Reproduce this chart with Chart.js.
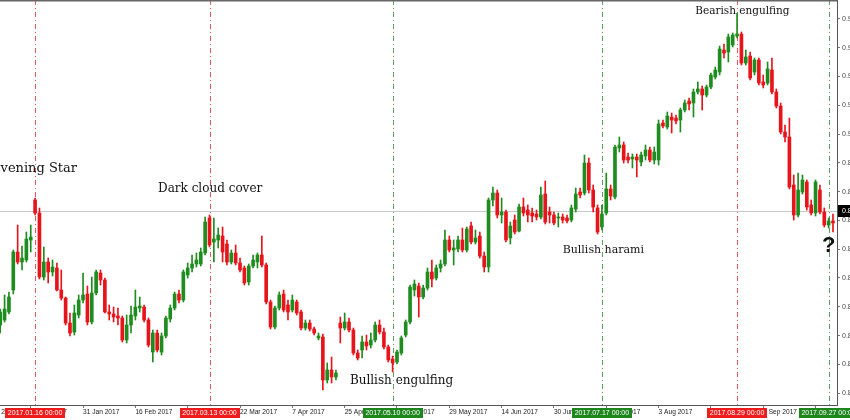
<!DOCTYPE html>
<html>
<head>
<meta charset="utf-8">
<script src="https://cdn.jsdelivr.net/npm/chart.js@4.4.0/dist/chart.umd.min.js"></script>
<style>
  html, body { margin: 0; padding: 0; background: #fff; overflow: hidden; }
  #wrap { width: 850px; height: 420px; }
</style>
</head>
<body>
<div id="wrap"><canvas id="chart" width="850" height="420"></canvas></div>
<script>
// daily bars, 4 Jan 2017 (index 0) .. 28 Sep 2017 (index 191)
const opens = [
  0.85375,0.85500,0.85700,0.86250,0.87200,0.86950,0.87000,0.87500,0.88500,0.88175,
  0.86575,0.86950,0.86700,0.86800,0.86250,0.86050,0.85425,0.85200,0.85625,0.86000,
  0.86150,0.85450,0.86175,0.86675,0.86500,0.85700,0.85650,0.85600,0.85550,0.85000,
  0.85375,0.85600,0.85800,0.85825,0.85500,0.84700,0.85175,0.84700,0.85100,0.85525,
  0.85800,0.86150,0.86000,0.86625,0.86800,0.86900,0.86900,0.87175,0.88050,0.87450,
  0.87500,0.87600,0.87400,0.86950,0.87175,0.86925,0.86800,0.86450,0.86850,0.86950,
  0.87125,0.86875,0.85950,0.85325,0.85800,0.86150,0.85875,0.85750,0.85950,0.85700,
  0.85300,0.85425,0.85275,0.85050,0.85075,0.84000,0.84250,0.84075,0.85425,0.85300,
  0.85450,0.85250,0.84675,0.84750,0.84950,0.84875,0.85000,0.85375,0.85200,0.84825,
  0.84525,0.84450,0.84675,0.85125,0.85450,0.86250,0.86350,0.86075,0.86300,0.86700,
  0.86550,0.86800,0.86900,0.87500,0.87250,0.87275,0.87500,0.87250,0.87850,0.87450,
  0.87600,0.87100,0.86825,0.88500,0.88675,0.88125,0.88200,0.87550,0.88000,0.87725,
  0.88325,0.88250,0.88175,0.88150,0.88075,0.88650,0.88200,0.88125,0.88050,0.88075,
  0.88050,0.88000,0.88275,0.88700,0.88675,0.89425,0.88750,0.88300,0.87825,0.88175,
  0.88775,0.88575,0.89800,0.89875,0.89575,0.89525,0.89575,0.89450,0.89600,0.89750,
  0.89500,0.89500,0.90425,0.90325,0.90575,0.90550,0.90500,0.90750,0.90975,0.90925,
  0.91200,0.91275,0.91125,0.91325,0.91575,0.91700,0.92250,0.92200,0.92375,0.92600,
  0.92650,0.91925,0.92100,0.91700,0.92000,0.91450,0.91425,0.91750,0.91200,0.90850,
  0.90200,0.90075,0.88875,0.88125,0.88700,0.88950,0.88375,0.88175,0.88750,0.88200,
  0.87875,0.87975
];
const highs = [
  0.85775,0.86125,0.86200,0.87250,0.87875,0.87350,0.87700,0.87875,0.88550,0.88300,
  0.87325,0.87050,0.87000,0.86925,0.86750,0.86075,0.85675,0.85875,0.86125,0.86675,
  0.86350,0.86575,0.86750,0.86750,0.86550,0.85875,0.85825,0.85800,0.85600,0.85625,
  0.85850,0.86250,0.86075,0.85875,0.85550,0.85250,0.85250,0.85175,0.85600,0.85875,
  0.86200,0.86250,0.86750,0.86925,0.87125,0.87175,0.87300,0.88075,0.88125,0.88050,
  0.87800,0.87825,0.87500,0.87250,0.87375,0.87050,0.86850,0.86900,0.87125,0.87175,
  0.87600,0.86925,0.86000,0.85850,0.86200,0.86250,0.86000,0.86125,0.86000,0.85750,
  0.85500,0.85500,0.85325,0.85175,0.85150,0.84425,0.84575,0.84250,0.85575,0.85675,
  0.85550,0.85300,0.84750,0.85100,0.85125,0.85175,0.85450,0.85500,0.85300,0.84875,
  0.84600,0.84750,0.85100,0.85500,0.86375,0.86500,0.86425,0.86375,0.86800,0.87000,
  0.86875,0.87000,0.87750,0.87600,0.87500,0.87600,0.87800,0.87825,0.87950,0.87750,
  0.87700,0.87200,0.88550,0.88825,0.88750,0.88550,0.88250,0.87950,0.88125,0.88400,
  0.88550,0.88375,0.88300,0.88250,0.88825,0.88975,0.88325,0.88200,0.88175,0.88150,
  0.88125,0.88375,0.88800,0.88800,0.89625,0.89550,0.88875,0.88375,0.88375,0.89175,
  0.88875,0.89875,0.90075,0.89950,0.89675,0.89650,0.89650,0.89700,0.89875,0.89825,
  0.89825,0.90500,0.90500,0.90700,0.90675,0.90625,0.90800,0.91000,0.91050,0.91275,
  0.91450,0.91350,0.91375,0.91675,0.91825,0.92350,0.92400,0.92650,0.92675,0.93175,
  0.92700,0.92250,0.92200,0.92050,0.92050,0.91625,0.91950,0.92050,0.91275,0.90925,
  0.90375,0.90550,0.89125,0.89175,0.89125,0.89000,0.88500,0.89000,0.88875,0.88300,
  0.88050,0.88150
];
const lows = [
  0.85175,0.85450,0.85650,0.86150,0.86900,0.86750,0.86950,0.87200,0.88125,0.86525,
  0.86500,0.86425,0.86600,0.86225,0.86000,0.85375,0.85100,0.85125,0.85550,0.85925,
  0.85375,0.85400,0.86125,0.86375,0.85675,0.85500,0.85450,0.85375,0.84950,0.84925,
  0.85175,0.85500,0.85700,0.85450,0.84825,0.84450,0.84700,0.84625,0.85050,0.85450,
  0.85750,0.85925,0.85950,0.86550,0.86700,0.86825,0.86850,0.87125,0.87325,0.86950,
  0.87300,0.86950,0.86875,0.86900,0.86875,0.86700,0.86375,0.86375,0.86800,0.86800,
  0.86825,0.85900,0.85275,0.85275,0.85750,0.85700,0.85500,0.85700,0.85625,0.85250,
  0.85250,0.85225,0.85125,0.85000,0.83750,0.83925,0.83925,0.84000,0.84925,0.85250,
  0.85200,0.84625,0.84500,0.84550,0.84750,0.84800,0.84950,0.85150,0.84775,0.84450,
  0.84200,0.84400,0.84625,0.85075,0.85400,0.86100,0.85575,0.86025,0.86250,0.86325,
  0.86500,0.86700,0.86850,0.87200,0.86875,0.87200,0.87200,0.87200,0.87400,0.87400,
  0.87050,0.86700,0.86700,0.88350,0.88050,0.87925,0.87450,0.87400,0.87650,0.87700,
  0.88100,0.87950,0.87950,0.88000,0.88025,0.87900,0.87925,0.87875,0.87825,0.87925,
  0.87925,0.87950,0.88200,0.88550,0.88625,0.88675,0.88200,0.87650,0.87750,0.88125,
  0.88500,0.88525,0.89700,0.89425,0.89425,0.89300,0.89075,0.89350,0.89500,0.89450,
  0.89400,0.89375,0.90300,0.90275,0.90175,0.90400,0.90200,0.90700,0.90750,0.90575,
  0.91150,0.90750,0.91075,0.91275,0.91525,0.91625,0.92050,0.91950,0.92325,0.92550,
  0.91875,0.91875,0.91500,0.91625,0.91375,0.91300,0.91375,0.91150,0.90800,0.90150,
  0.89950,0.88775,0.88000,0.88075,0.88650,0.88250,0.88125,0.88100,0.88150,0.87825,
  0.87800,0.87700
];
const closes = [
  0.85700,0.85775,0.86075,0.87200,0.86950,0.87050,0.87525,0.87575,0.88175,0.86575,
  0.86950,0.86700,0.86825,0.86250,0.86050,0.85425,0.85175,0.85675,0.86000,0.86125,
  0.85450,0.86175,0.86700,0.86500,0.85700,0.85650,0.85575,0.85550,0.85000,0.85375,
  0.85625,0.85825,0.85850,0.85500,0.84875,0.85175,0.84750,0.85100,0.85550,0.85800,
  0.86150,0.86000,0.86700,0.86800,0.86900,0.87000,0.87200,0.87950,0.87375,0.87525,
  0.87625,0.87200,0.86950,0.87175,0.86925,0.86750,0.86425,0.86850,0.87000,0.87125,
  0.86875,0.85950,0.85325,0.85800,0.86125,0.85750,0.85700,0.86000,0.85675,0.85300,
  0.85425,0.85275,0.85175,0.85100,0.84000,0.84250,0.84075,0.84175,0.85300,0.85450,
  0.85250,0.84675,0.84550,0.84950,0.84850,0.85000,0.85375,0.85200,0.84825,0.84500,
  0.84425,0.84700,0.85050,0.85450,0.86325,0.86400,0.86075,0.86300,0.86700,0.86525,
  0.86800,0.86900,0.87500,0.87250,0.87300,0.87500,0.87250,0.87775,0.87450,0.87550,
  0.87100,0.86825,0.88500,0.88675,0.88125,0.88200,0.87500,0.87850,0.87700,0.88325,
  0.88175,0.88125,0.88100,0.88075,0.88625,0.87950,0.88125,0.87925,0.88075,0.88000,
  0.87975,0.88300,0.88650,0.88625,0.89425,0.88750,0.88325,0.87700,0.88150,0.88775,
  0.88600,0.89825,0.89875,0.89500,0.89500,0.89575,0.89500,0.89625,0.89750,0.89500,
  0.89700,0.90400,0.90350,0.90600,0.90500,0.90475,0.90750,0.90925,0.90900,0.91200,
  0.91275,0.91125,0.91325,0.91625,0.91750,0.92275,0.92175,0.92575,0.92625,0.92650,
  0.91925,0.92075,0.91550,0.92000,0.91425,0.91375,0.91775,0.91200,0.90850,0.90200,
  0.90075,0.88825,0.88125,0.88750,0.89000,0.88325,0.88175,0.88950,0.88200,0.87875,
  0.87975,0.87925
];
const bidPrice = 0.88225;

// date axis (bar index -> label), every 12th bar
const tickIndex = [-5, 7, 19, 31, 43, 55, 67, 79, 91, 103, 115, 127, 139, 151, 163, 175, 187];
const tickLabels = ["28 Dec 2016", "13 Jan 2017", "31 Jan 2017", "16 Feb 2017", "6 Mar 2017",
  "22 Mar 2017", "7 Apr 2017", "25 Apr 2017", "11 May 2017", "29 May 2017", "14 Jun 2017",
  "30 Jun 2017", "18 Jul 2017", "3 Aug 2017", "21 Aug 2017", "6 Sep 2017", "22 Sep 2017"];
const priceTicks = [0.93030, 0.92310, 0.91590, 0.90870, 0.90150, 0.89430, 0.88710,
  0.87990, 0.87270, 0.86550, 0.85830, 0.85110, 0.84390, 0.83670];

// pattern markers
const markerIndex = [8, 48, 90, 138, 169, 190];
const markerDates = ["2017.01.16 00:00", "2017.03.13 00:00", "2017.05.10 00:00",
  "2017.07.17 00:00", "2017.08.29 00:00", "2017.09.27 00:00"];
const markerSide = ["bear", "bear", "bull", "bull", "bear", "bull"];

const upColor = "#1e8c1e";
const downColor = "#e8141c";
const lineColor = { bear: "#e25a62", bull: "#5e9e5e" };
const boxColor = { bear: "#ee1c1c", bull: "#1d861d" };

// text notes: [text, bar index, price, font]
const notes = [
  ["Evening Star", -2.1, 0.8920, "13px 'DejaVu Serif'"],
  ["Dark cloud cover", 36.2, 0.8870, "12px 'DejaVu Serif'"],
  ["Bullish engulfing", 80.2, 0.8390, "12px 'DejaVu Serif'"],
  ["Bullish harami", 129.0, 0.8718, "11px 'DejaVu Serif'"],
  ["Bearish engulfing", 159.4, 0.9315, "10.5px 'DejaVu Serif'"]
];

const bodies = opens.map((o, i) => ({ x: i, y: [o, closes[i]] }));
const wicks = highs.map((h, i) => ({ x: i, y: [lows[i], h] }));
const barColors = opens.map((o, i) => closes[i] >= o ? upColor : downColor);

const overlay = {
  id: "overlay",
  beforeDatasetsDraw(chart) {
    const { ctx, chartArea: a, scales } = chart;
    ctx.save();
    const by = Math.round(scales.y.getPixelForValue(bidPrice)) + 0.5;
    ctx.strokeStyle = "#cacaca";
    ctx.lineWidth = 1;
    ctx.beginPath(); ctx.moveTo(a.left, by); ctx.lineTo(a.right, by); ctx.stroke();
    ctx.setLineDash([5, 3, 1, 3]);
    markerIndex.forEach((m, k) => {
      const px = Math.round(scales.x.getPixelForValue(m)) + 0.5;
      ctx.strokeStyle = lineColor[markerSide[k]];
      ctx.beginPath(); ctx.moveTo(px, a.top); ctx.lineTo(px, a.bottom); ctx.stroke();
    });
    ctx.restore();
  },
  afterDatasetsDraw(chart) {
    const { ctx, scales } = chart;
    ctx.save();
    ctx.fillStyle = "#111";
    ctx.textBaseline = "alphabetic";
    notes.forEach(([txt, idx, price, font]) => {
      ctx.font = font;
      ctx.fillText(txt, scales.x.getPixelForValue(idx), scales.y.getPixelForValue(price));
    });
    // question mark over the last marker
    ctx.font = "bold 22px 'Liberation Sans'";
    ctx.textAlign = "center";
    ctx.fillText("?", scales.x.getPixelForValue(markerIndex[5]), scales.y.getPixelForValue(0.8720));
    ctx.restore();
  },
  afterDraw(chart) {
    const { ctx, chartArea: a, scales } = chart;
    ctx.save();
    // top frame
    ctx.strokeStyle = "#666";
    ctx.lineWidth = 1.5;
    ctx.beginPath(); ctx.moveTo(0, 0.75); ctx.lineTo(a.right, 0.75); ctx.stroke();
    // date boxes on the time axis
    ctx.font = "7px 'Liberation Sans'";
    ctx.textBaseline = "middle";
    ctx.textAlign = "center";
    markerIndex.forEach((m, k) => {
      const px = scales.x.getPixelForValue(m);
      ctx.fillStyle = boxColor[markerSide[k]];
      ctx.fillRect(Math.round(px - 30), a.bottom + 3, 60, 10);
      ctx.fillStyle = "#fff";
      ctx.fillText(markerDates[k], px, a.bottom + 8.5);
    });
    // bid price box
    const by = scales.y.getPixelForValue(bidPrice);
    ctx.fillStyle = "#000";
    ctx.fillRect(a.right + 1, Math.round(by) - 6, 20, 12);
    ctx.fillStyle = "#fff";
    ctx.textAlign = "left";
    ctx.fillText(bidPrice.toFixed(5), a.right + 5, Math.round(by) + 0.5);
    ctx.restore();
  }
};

new Chart(document.getElementById("chart"), {
  type: "bar",
  data: {
    datasets: [
      { data: bodies, backgroundColor: barColors, barThickness: 3, minBarLength: 1, grouped: false, order: 0 },
      { data: wicks, backgroundColor: barColors, barThickness: 1, grouped: false, order: 1 }
    ]
  },
  options: {
    responsive: false,
    animation: false,
    devicePixelRatio: 1,
    layout: { padding: 0 },
    plugins: { legend: { display: false }, tooltip: { enabled: false } },
    scales: {
      x: {
        type: "linear",
        offset: false,
        bounds: "data",
        min: -0.05,
        max: 191.92,
        afterBuildTicks: s => { s.ticks = tickIndex.map(v => ({ value: v })); },
        afterFit: s => { s.height = 15; s.paddingLeft = 0; s.paddingRight = 0; },
        grid: { drawOnChartArea: false, offset: false, tickLength: 3, color: "#777" },
        border: { color: "#555" },
        ticks: {
          align: "start", padding: 0, maxRotation: 0, autoSkip: false, color: "#222",
          font: { family: "Liberation Sans", size: 6.6 },
          callback: (v, i) => tickLabels[i]
        }
      },
      y: {
        type: "linear",
        position: "right",
        min: 0.83375,
        max: 0.935,
        afterBuildTicks: s => { s.ticks = priceTicks.map(v => ({ value: v })); },
        afterFit: s => { s.width = 13; s.paddingTop = 0; s.paddingBottom = 0; },
        grid: { drawOnChartArea: false, tickLength: 3, color: "#777" },
        border: { color: "#555" },
        ticks: {
          padding: 2, color: "#444",
          font: { family: "Liberation Sans", size: 7 },
          callback: v => v.toFixed(5)
        }
      }
    }
  },
  plugins: [overlay]
});
</script>
</body>
</html>
